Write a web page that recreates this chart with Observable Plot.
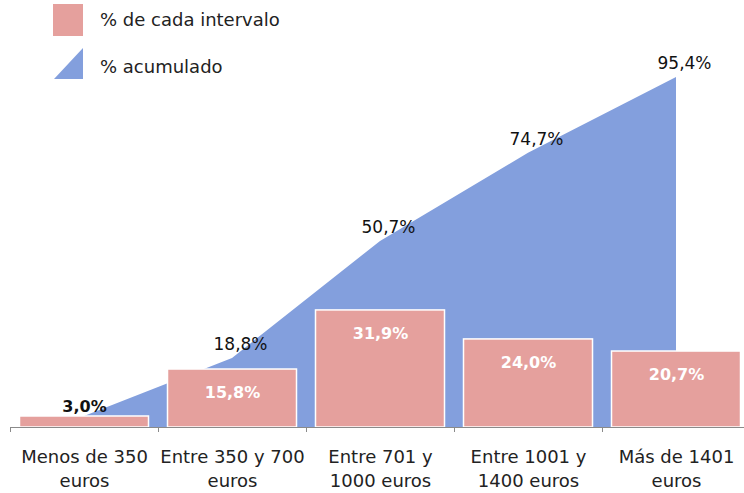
<!DOCTYPE html>
<html>
<head>
<meta charset="utf-8">
<script src="https://cdn.jsdelivr.net/npm/d3@7"></script>
<script src="https://cdn.jsdelivr.net/npm/@observablehq/plot@0.6"></script>
<style>
  html, body { margin: 0; padding: 0; background: #fff; }
  #wrap { position: relative; width: 744px; height: 493px; font-family: "DejaVu Sans", sans-serif; }
  .leg { position: absolute; font-size: 18px; color: #222; white-space: nowrap; }
</style>
</head>
<body>
<div id="wrap">
  <div id="chart"></div>
  <div id="legend"></div>
</div>
<script>
const categories = ["Menos de 350 euros", "Entre 350 y 700 euros", "Entre 701 y 1000 euros", "Entre 1001 y 1400 euros", "Más de 1401 euros"];
const categoryLabels = ["Menos de 350\neuros", "Entre 350 y 700\neuros", "Entre 701 y\n1000 euros", "Entre 1001 y\n1400 euros", "Más de 1401\neuros"];
const intervalPct = [3.0, 15.8, 31.9, 24.0, 20.7];
const cumulativePct = [3.0, 18.8, 50.7, 74.7, 95.4];
const seriesNames = ["% de cada intervalo", "% acumulado"];

const pink = "#E5A09D";
const blue = "#839FDD";
const fmt = v => v.toFixed(1).replace(".", ",") + "%";

const rows = categories.map((c, i) => ({i, cat: c, pct: intervalPct[i], cum: cumulativePct[i]}));
const idx = rows.map(d => d.i);
const bounds = [...idx.map(i => i - 0.5), idx.length - 0.5];

const chart = Plot.plot({
  width: 744,
  height: 493,
  marginTop: 60,
  marginBottom: 66,
  marginLeft: 10,
  marginRight: 0,
  style: {fontFamily: "DejaVu Sans, sans-serif", background: "white"},
  x: {type: "linear", domain: [-0.5, idx.length - 0.5], range: [10, 750], label: null},
  y: {domain: [0, 100], axis: null, label: null},
  marks: [
    Plot.areaY(rows, {x: "i", y: "cum", fill: blue}),
    Plot.rectY(rows, {x1: d => d.i - 0.5, x2: d => d.i + 0.5, y: "pct", fill: pink, stroke: "white", strokeWidth: 1.5, insetLeft: 9.5, insetRight: 9.5}),
    Plot.ruleY([0], {stroke: "#8a8a8a", strokeWidth: 1}),
    Plot.axisX({ticks: bounds, tickSize: 5, tickFormat: () => "", stroke: "#8a8a8a", label: null}),
    Plot.axisX({ticks: idx, tickSize: 0, tickPadding: 18, tickFormat: i => categoryLabels[i], fontSize: 18, lineHeight: 1.35, fill: "#222", label: null}),
    Plot.text(rows.filter(d => d.i > 0), {x: "i", y: "pct", text: d => fmt(d.pct), dy: 23, fill: "white", fontWeight: "bold", fontSize: 16}),
    Plot.text(rows.filter(d => d.i === 0), {x: "i", y: "pct", text: d => fmt(d.pct), dy: -10, fill: "#111", fontWeight: "bold", fontSize: 16}),
    Plot.text(rows.filter(d => d.i > 0), {x: "i", y: "cum", text: d => fmt(d.cum), dy: -14, dx: 8, fill: "#111", fontSize: 17})
  ]
});
document.getElementById("chart").appendChild(chart);

const legend = document.getElementById("legend");
legend.innerHTML = `
  <svg width="100" height="90" style="position:absolute;left:0;top:0">
    <rect x="53" y="4" width="30" height="32" fill="${pink}"/>
    <polygon points="54,79 83,48 83,79" fill="${blue}"/>
  </svg>
  <div class="leg" style="left:100px;top:9px">${seriesNames[0]}</div>
  <div class="leg" style="left:100px;top:56px">${seriesNames[1]}</div>
`;
</script>
</body>
</html>
